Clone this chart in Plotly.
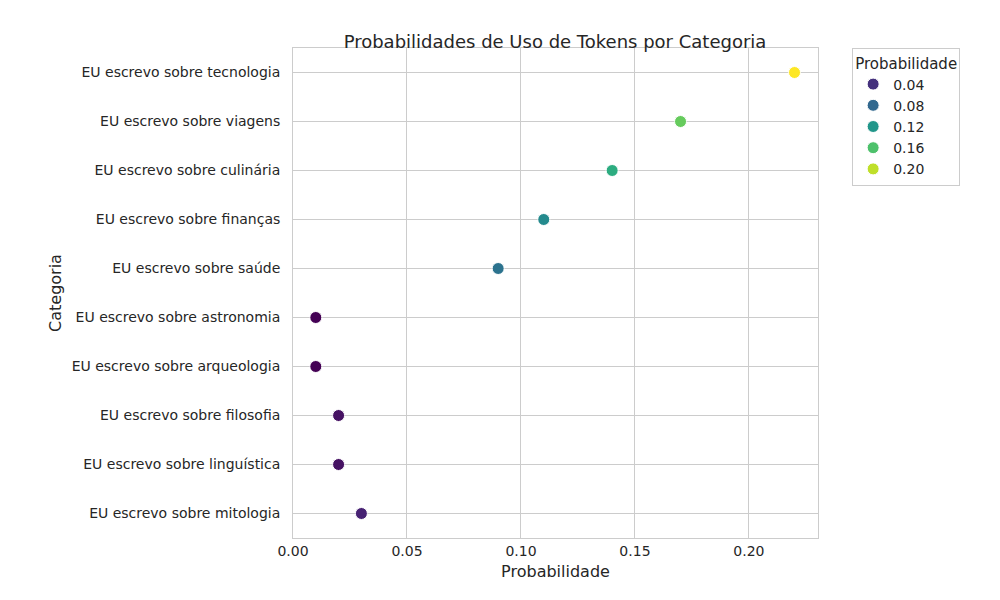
import plotly.graph_objects as go
from plotly.colors import sample_colorscale

categorias = [
    "EU escrevo sobre tecnologia",
    "EU escrevo sobre viagens",
    "EU escrevo sobre culinária",
    "EU escrevo sobre finanças",
    "EU escrevo sobre saúde",
    "EU escrevo sobre astronomia",
    "EU escrevo sobre arqueologia",
    "EU escrevo sobre filosofia",
    "EU escrevo sobre linguística",
    "EU escrevo sobre mitologia",
]
probabilidades = [0.22, 0.17, 0.14, 0.11, 0.09, 0.01, 0.01, 0.02, 0.02, 0.03]
legenda_valores = [0.04, 0.08, 0.12, 0.16, 0.20]

vmin, vmax = min(probabilidades), max(probabilidades)


def cor(v):
    return sample_colorscale("Viridis", [(v - vmin) / (vmax - vmin)])[0]


fig = go.Figure()
fig.add_trace(go.Scatter(
    x=probabilidades, y=categorias, mode="markers",
    marker=dict(size=12, color=[cor(v) for v in probabilidades],
                line=dict(color="white", width=1)),
    showlegend=False,
))
for v in legenda_valores:
    fig.add_trace(go.Scatter(
        x=[None], y=[None], mode="markers", name=f"{v:.2f}",
        marker=dict(size=12, color=cor(v), line=dict(color="white", width=1)),
    ))

fig.update_layout(
    width=1000, height=600,
    template="plotly_white",
    font=dict(family="DejaVu Sans", size=14, color="#262626"),
    title=dict(text="Probabilidades de Uso de Tokens por Categoria",
               x=0.547, xanchor="center", y=0.955, font=dict(size=18)),
    margin=dict(l=285, r=190, t=40, b=70, autoexpand=False),
    plot_bgcolor="white",
    legend=dict(title=dict(text="Probabilidade", side="top", font=dict(size=15)),
                x=1.065, y=1.0, xanchor="left", yanchor="top",
                bordercolor="#cccccc", borderwidth=1, font=dict(size=14)),
    xaxis=dict(title=dict(text="Probabilidade", standoff=8, font=dict(size=16)),
               range=[0, 0.2303], dtick=0.05, automargin=False,
               tickformat=".2f", showgrid=True, gridcolor="#cccccc",
               showline=True, linecolor="#cccccc", mirror=True,
               zeroline=False, ticks=""),
    yaxis=dict(title=dict(text="Categoria", standoff=6, font=dict(size=16)),
               categoryorder="array", automargin=False,
               categoryarray=categorias[::-1], range=[-0.5, 9.5],
               showgrid=True, gridcolor="#cccccc", showline=True,
               linecolor="#cccccc", mirror=True, ticks="", ticksuffix="  "),
)

fig.write_html("out.html")
